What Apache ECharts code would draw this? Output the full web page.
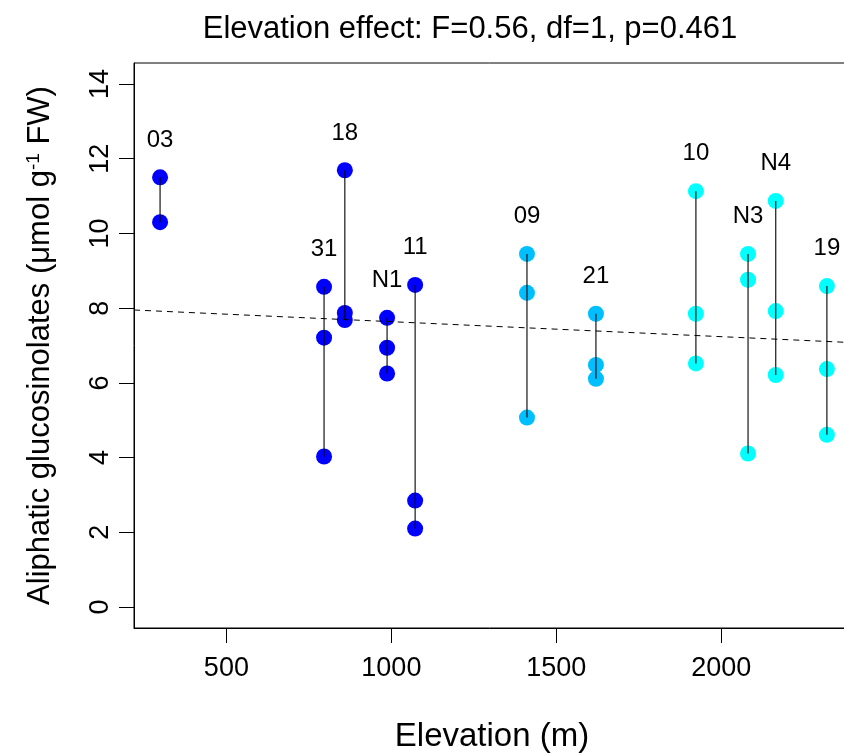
<!DOCTYPE html>
<html>
<head>
<meta charset="utf-8">
<script src="https://cdn.jsdelivr.net/npm/echarts@6/dist/echarts.min.js"></script>
<style>html,body{margin:0;padding:0;background:#fff}#c{width:844px;height:754px}</style>
</head>
<body>
<div id="c"></div>
<script>
// ---- data ----
const sites = ['03', '31', '18', 'N1', '11', '09', '21', '10', 'N3', 'N4', '19'];
const elevations = [299, 796, 859, 987, 1072, 1411, 1620, 1923, 2081, 2165, 2320];
const glucosinolates = [
  [11.50, 10.30],
  [8.57, 7.21, 4.03],
  [11.69, 7.87, 7.68],
  [7.74, 6.94, 6.25],
  [8.62, 2.85, 2.10],
  [9.45, 8.41, 5.07],
  [7.85, 6.48, 6.11],
  [11.13, 7.85, 6.52],
  [9.45, 8.76, 4.11],
  [10.87, 7.92, 6.21],
  [8.59, 6.37, 4.61]
];
const siteColors = ['#0000FF', '#0000FF', '#0000FF', '#0000FF', '#0000FF',
  '#00BFFF', '#00BFFF', '#00FFFF', '#00FFFF', '#00FFFF', '#00FFFF'];
const regressionX = [220, 2390];
const regressionY = [7.95, 7.08];
const xTicks = [500, 1000, 1500, 2000];
const yTicks = [0, 2, 4, 6, 8, 10, 12, 14];
const xRange = [220, 2390];
const yRange = [-0.56, 14.56];
const titleText = 'Elevation effect: F=0.56, df=1, p=0.461';

// ---- build series ----
const FONT = 'Liberation Sans, Arial, Helvetica, sans-serif';
const pointData = [];
sites.forEach((s, i) => {
  glucosinolates[i].forEach(v => {
    pointData.push({ value: [elevations[i], v], itemStyle: { color: siteColors[i], opacity: 1 } });
  });
});
const rangeSeries = sites.map((s, i) => ({
  type: 'line',
  data: [[elevations[i], Math.max(...glucosinolates[i])], [elevations[i], Math.min(...glucosinolates[i])]],
  symbol: 'none',
  lineStyle: { color: '#000', width: 1.1, opacity: 1 },
  z: 5,
  silent: true
}));
const labelData = sites.map((s, i) => ({ value: [elevations[i], Math.max(...glucosinolates[i]) + 1], name: s }));

const chart = echarts.init(document.getElementById('c'), null, { renderer: 'canvas' });
chart.setOption({
  animation: false,
  backgroundColor: '#fff',
  textStyle: { fontFamily: FONT },
  graphic: [{
    type: 'text', x: 470, y: 29, z: 10,
    style: { text: titleText, x: 0, y: 0, align: 'center', verticalAlign: 'middle',
      font: '31px ' + FONT, fill: '#000' }
  }],
  grid: { left: 134, top: 63, width: 716, height: 565, show: true, borderColor: '#000', borderWidth: 1,
    backgroundColor: 'transparent', containLabel: false, outerBoundsMode: 'none' },
  xAxis: {
    type: 'value', min: xRange[0], max: xRange[1],
    name: 'Elevation (m)', nameLocation: 'middle', nameGap: 92,
    nameTextStyle: { fontFamily: FONT, fontSize: 33, color: '#000' },
    axisLine: { show: true, onZero: false, lineStyle: { color: '#000', width: 1 } },
    axisTick: { show: true, length: 15, lineStyle: { color: '#000' }, customValues: xTicks },
    axisLabel: { fontFamily: FONT, fontSize: 27, color: '#000', margin: 27, customValues: xTicks,
      formatter: v => String(v) },
    splitLine: { show: false }
  },
  yAxis: {
    type: 'value', min: yRange[0], max: yRange[1],
    name: 'Aliphatic glucosinolates (μmol g{sup|-1} FW)', nameLocation: 'middle', nameGap: 78,
    nameTextStyle: { fontFamily: FONT, fontSize: 31, color: '#000',
      rich: { sup: { fontFamily: FONT, fontSize: 19, color: '#000', verticalAlign: 'top', padding: [0, 0, 13, 0] } } },
    axisLine: { show: true, onZero: false, lineStyle: { color: '#000', width: 1 } },
    axisTick: { show: true, length: 15, lineStyle: { color: '#000' }, customValues: yTicks },
    axisLabel: { fontFamily: FONT, fontSize: 27, color: '#000', margin: 20, rotate: 90, customValues: yTicks,
      formatter: v => String(v) },
    splitLine: { show: false }
  },
  series: [
    {
      type: 'scatter', data: pointData, symbol: 'circle', symbolSize: 16, z: 3, silent: true,
      itemStyle: { opacity: 1 }
    },
    ...rangeSeries,
    {
      type: 'line',
      data: [[regressionX[0], regressionY[0]], [regressionX[1], regressionY[1]]],
      symbol: 'none',
      lineStyle: { color: '#000', width: 1, type: [6, 5], opacity: 1 },
      z: 4, silent: true
    },
    {
      type: 'scatter', data: labelData, symbolSize: 0, z: 6, silent: true,
      itemStyle: { opacity: 1 },
      label: { show: true, position: 'inside', formatter: p => p.name, fontFamily: FONT, fontSize: 24,
        color: '#000', opacity: 1, textBorderWidth: 0 }
    }
  ]
});
</script>
</body>
</html>
